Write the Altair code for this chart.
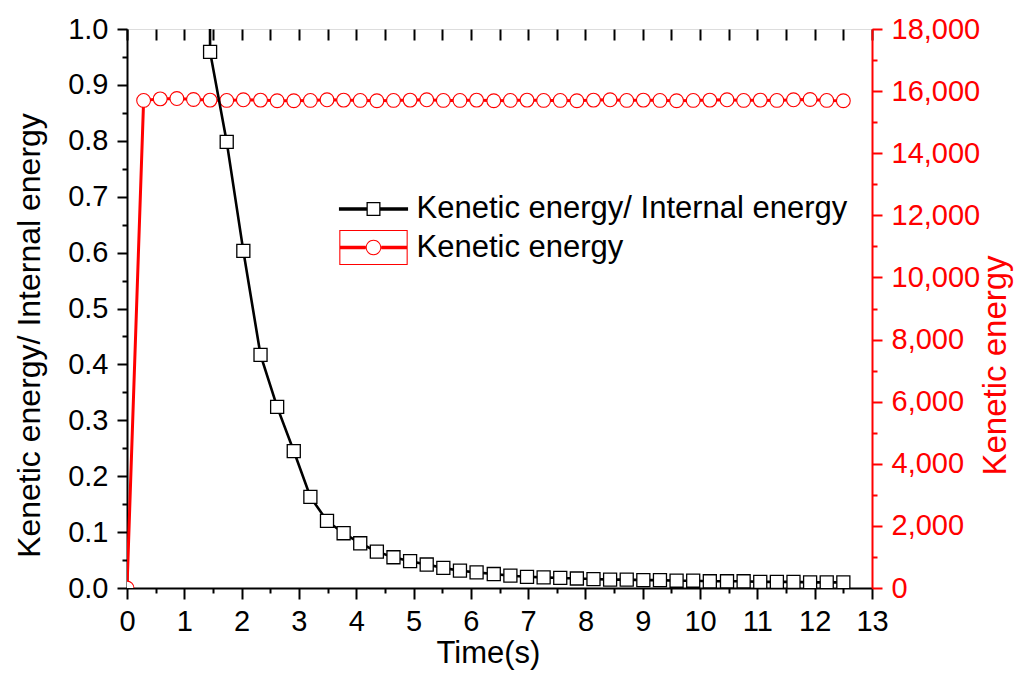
import altair as alt
import pandas as pd

# ---------------- data ----------------
time_s = [0, 0.29, 0.58, 0.87, 1.16, 1.45, 1.74, 2.03, 2.33, 2.62, 2.91, 3.20,
          3.49, 3.78, 4.07, 4.36, 4.65, 4.94, 5.23, 5.52, 5.81, 6.10, 6.40, 6.69,
          6.98, 7.27, 7.56, 7.85, 8.14, 8.43, 8.72, 9.01, 9.30, 9.59, 9.88, 10.17,
          10.47, 10.76, 11.05, 11.34, 11.63, 11.92, 12.21, 12.50]

ratio = [None, None, None, None, 10.0,
         0.959, 0.798, 0.603, 0.417, 0.324, 0.245, 0.163, 0.120, 0.098, 0.080,
         0.065, 0.055, 0.048, 0.042, 0.036, 0.031, 0.028, 0.025, 0.022, 0.020,
         0.019, 0.018, 0.017, 0.016, 0.015, 0.015, 0.014, 0.014, 0.013, 0.013,
         0.012, 0.012, 0.012, 0.011, 0.011, 0.011, 0.010, 0.010, 0.010]

kinetic = [0, 15700, 15750, 15760, 15730,
           15710, 15700, 15720, 15710, 15690, 15690, 15700, 15720, 15710, 15700,
           15690, 15700, 15710, 15720, 15700, 15700, 15710, 15690, 15700, 15710,
           15700, 15700, 15690, 15710, 15720, 15700, 15710, 15700, 15690, 15700,
           15710, 15720, 15700, 15710, 15700, 15720, 15730, 15700, 15690]

x_ticks = [0, 0.5, 1, 1.5, 2, 2.5, 3, 3.5, 4, 4.5, 5, 5.5, 6, 6.5, 7, 7.5, 8,
           8.5, 9, 9.5, 10, 10.5, 11, 11.5, 12, 12.5, 13]
left_ticks = [0, 0.05, 0.1, 0.15, 0.2, 0.25, 0.3, 0.35, 0.4, 0.45, 0.5, 0.55,
              0.6, 0.65, 0.7, 0.75, 0.8, 0.85, 0.9, 0.95, 1.0]
right_ticks = [0, 1000, 2000, 3000, 4000, 5000, 6000, 7000, 8000, 9000, 10000,
               11000, 12000, 13000, 14000, 15000, 16000, 17000, 18000]

legend_names = ["Kenetic energy/ Internal energy", "Kenetic energy"]
legend_colors = ["black", "red"]

# ---------------- legend symbol shapes ----------------
sq_sym = ("M-1.92,-0.093H-0.389V0.093H-1.92Z "
          "M0.389,-0.093H1.92V0.093H0.389Z "
          "M-0.389,-0.389H0.389V0.389H-0.389Z "
          "M-0.317,-0.317V0.317H0.317V-0.317Z")
ci_sym = ("M-1.9,-0.093H-0.43V0.093H-1.9Z "
          "M0.43,-0.093H1.9V0.093H0.43Z "
          "M-0.43,0A0.43,0.43 0 1,1 0.43,0A0.43,0.43 0 1,1 -0.43,0Z "
          "M-0.375,0A0.375,0.375 0 1,0 0.375,0A0.375,0.375 0 1,0 -0.375,0Z "
          "M-1.9,-0.975H1.9V0.975H-1.9Z "
          "M-1.84,-0.91V0.91H1.84V-0.91Z")

df = pd.DataFrame({"time": time_s, "ratio": ratio, "kinetic": kinetic})

FONT = "Liberation Sans"

xscale = alt.Scale(domain=[0, 13], nice=False, zero=False)
lscale = alt.Scale(domain=[0, 1], nice=False)
rscale = alt.Scale(domain=[0, 18000], nice=False)

bottom_axis = alt.Axis(
    values=x_ticks, grid=False,
    labelExpr="datum.value % 1 === 0 ? format(datum.value, 'd') : ''",
    tickSize={"condition": {"test": "datum.value % 1 === 0", "value": 11}, "value": 5},
    tickWidth=2, tickColor="black", domainColor="black", domainWidth=2,
    labelFontSize=29, labelPadding=8, labelColor="black", labelFont=FONT,
    labelOverlap=False, labelFlush=False,
    title="Time(s)", titleFontSize=31, titleFontWeight="normal", titleColor="black",
    titleFont=FONT, titleX=361, titleY=74, titleBaseline="alphabetic",
)
top_axis = alt.Axis(
    orient="top", values=x_ticks, labels=False, domain=False, grid=False,
    tickSize=11, tickWidth=2, tickColor="black", offset=-11, title=None,
)
left_axis = alt.Axis(
    values=left_ticks, grid=False,
    labelExpr="abs(datum.value*10 - round(datum.value*10)) < 1e-6 ? format(datum.value, '.1f') : ''",
    tickSize={"condition": {"test": "abs(datum.value*10 - round(datum.value*10)) < 1e-6", "value": 10}, "value": 5},
    tickWidth=2, tickColor="black", domainColor="black", domainWidth=2,
    labelFontSize=29, labelPadding=9, labelColor="black", labelFont=FONT,
    labelOverlap=False, labelFlush=False,
    title="Kenetic energy/ Internal energy", titleFontSize=32, titleFontWeight="normal",
    titleColor="black", titleFont=FONT, titleAngle=270, titleX=-88, titleY=306,
    titleBaseline="alphabetic",
)
right_axis = alt.Axis(
    orient="right", values=right_ticks, grid=False,
    labelExpr="datum.value % 2000 === 0 ? format(datum.value, ',') : ''",
    tickSize={"condition": {"test": "datum.value % 2000 === 0", "value": 10}, "value": 5},
    tickWidth=2, tickColor="red", domainColor="red", domainWidth=2,
    labelFontSize=29, labelPadding=9, labelColor="red", labelFont=FONT,
    labelOverlap=False, labelFlush=False,
    title="Kenetic energy", titleFontSize=33, titleFontWeight="normal",
    titleColor="red", titleFont=FONT, titleAngle=270, titleX=133, titleY=336,
    titleBaseline="alphabetic",
)

base = alt.Chart(df)

red_line = base.mark_line(color="red", strokeWidth=3, clip=True).encode(
    x=alt.X("time:Q", scale=xscale, axis=None),
    y=alt.Y("kinetic:Q", scale=rscale, axis=right_axis),
)
red_pts = base.mark_point(shape="circle", filled=True, fill="white", stroke="red",
                          strokeWidth=1.1, size=190, opacity=1, clip=True).encode(
    x=alt.X("time:Q", scale=xscale, axis=None),
    y=alt.Y("kinetic:Q", scale=rscale, axis=None),
)
black_line = base.mark_line(color="black", strokeWidth=2.6, clip=True).encode(
    x=alt.X("time:Q", scale=xscale, axis=bottom_axis),
    y=alt.Y("ratio:Q", scale=lscale, axis=left_axis),
)
black_pts = base.mark_point(shape="square", filled=True, fill="white", stroke="black",
                            strokeWidth=1.3, size=170, opacity=1, clip=True).encode(
    x=alt.X("time:Q", scale=xscale, axis=top_axis),
    y=alt.Y("ratio:Q", scale=lscale, axis=None),
)

leg = alt.Legend(
    title=None, orient="none", legendX=228.5, legendY=162, padding=0,
    symbolSize=1296, symbolStrokeWidth=0, labelFontSize=31, labelFont=FONT,
    labelColor="black", labelOffset=25, labelLimit=1000, rowPadding=5.5,
    symbolOpacity=1,
)
legend_layer = alt.Chart(pd.DataFrame({"series": legend_names})).transform_filter(
    "false"
).mark_point(filled=True, size=1296, strokeWidth=0, opacity=1).encode(
    shape=alt.Shape("series:N", scale=alt.Scale(domain=legend_names, range=[sq_sym, ci_sym]), legend=leg),
    color=alt.Color("series:N", scale=alt.Scale(domain=legend_names, range=legend_colors), legend=leg),
)

chart = alt.layer(red_line, red_pts, black_line, black_pts, legend_layer).resolve_scale(
    y="independent"
).resolve_axis(
    x="independent", y="independent"
).properties(
    width=745, height=559,
    padding={"left": 119, "top": 21, "right": 144, "bottom": 86},
    autosize=alt.AutoSizeParams(type="none"),
    background="white",
).configure_view(
    stroke="black", strokeWidth=2
).configure(font=FONT)

chart.save("out.html", embed_options={"renderer": "svg", "actions": False})
